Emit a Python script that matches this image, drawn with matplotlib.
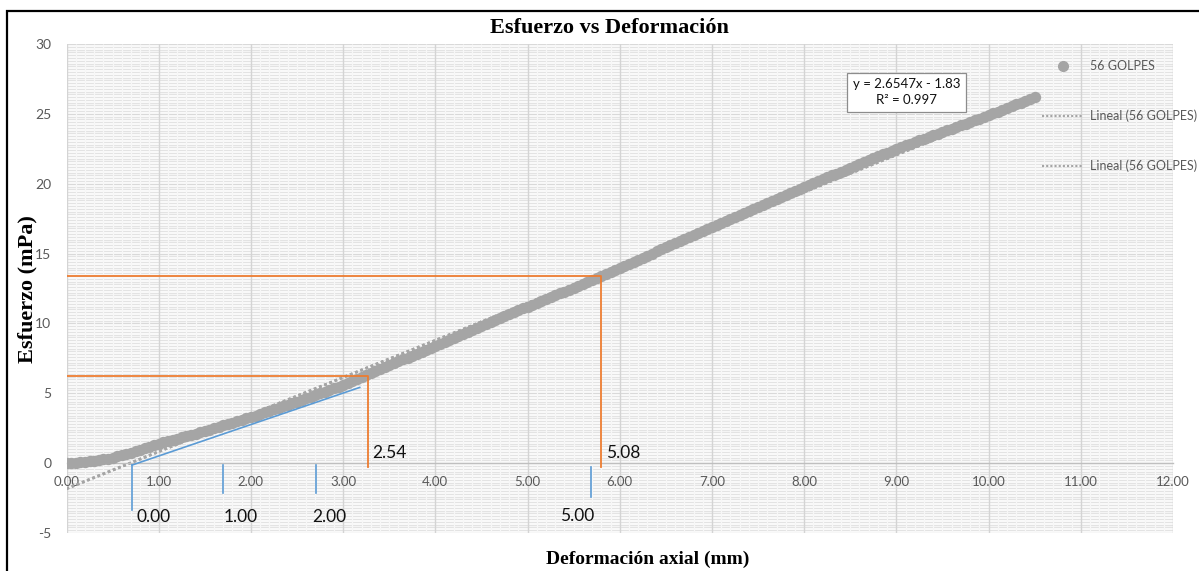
import matplotlib
matplotlib.use("Agg")
import matplotlib.pyplot as plt
from matplotlib.lines import Line2D
from matplotlib.patches import Rectangle
from matplotlib.ticker import MultipleLocator, FormatStrFormatter

plt.rcParams["axes.unicode_minus"] = False

# ---------------- data ----------------
deformacion = [
    0.00, 0.05, 0.10, 0.15, 0.20, 0.25, 0.30, 0.35, 0.40, 0.45,
    0.50, 0.55, 0.60, 0.65, 0.70, 0.75, 0.80, 0.85, 0.90, 0.95,
    1.00, 1.05, 1.10, 1.15, 1.20, 1.25, 1.30, 1.35, 1.40, 1.45,
    1.50, 1.55, 1.60, 1.65, 1.70, 1.75, 1.80, 1.85, 1.90, 1.95,
    2.00, 2.05, 2.10, 2.15, 2.20, 2.25, 2.30, 2.35, 2.40, 2.45,
    2.50, 2.55, 2.60, 2.65, 2.70, 2.75, 2.80, 2.85, 2.90, 2.95,
    3.00, 3.05, 3.10, 3.15, 3.20, 3.25, 3.30, 3.35, 3.40, 3.45,
    3.50, 3.55, 3.60, 3.65, 3.70, 3.75, 3.80, 3.85, 3.90, 3.95,
    4.00, 4.05, 4.10, 4.15, 4.20, 4.25, 4.30, 4.35, 4.40, 4.45,
    4.50, 4.55, 4.60, 4.65, 4.70, 4.75, 4.80, 4.85, 4.90, 4.95,
    5.00, 5.05, 5.10, 5.15, 5.20, 5.25, 5.30, 5.35, 5.40, 5.45,
    5.50, 5.55, 5.60, 5.65, 5.70, 5.75, 5.80, 5.85, 5.90, 5.95,
    6.00, 6.05, 6.10, 6.15, 6.20, 6.25, 6.30, 6.35, 6.40, 6.45,
    6.50, 6.55, 6.60, 6.65, 6.70, 6.75, 6.80, 6.85, 6.90, 6.95,
    7.00, 7.05, 7.10, 7.15, 7.20, 7.25, 7.30, 7.35, 7.40, 7.45,
    7.50, 7.55, 7.60, 7.65, 7.70, 7.75, 7.80, 7.85, 7.90, 7.95,
    8.00, 8.05, 8.10, 8.15, 8.20, 8.25, 8.30, 8.35, 8.40, 8.45,
    8.50, 8.55, 8.60, 8.65, 8.70, 8.75, 8.80, 8.85, 8.90, 8.95,
    9.00, 9.05, 9.10, 9.15, 9.20, 9.25, 9.30, 9.35, 9.40, 9.45,
    9.50, 9.55, 9.60, 9.65, 9.70, 9.75, 9.80, 9.85, 9.90, 9.95,
    10.00, 10.05, 10.10, 10.15, 10.20, 10.25, 10.30, 10.35, 10.40, 10.45,
    10.50]
esfuerzo = [
    0.00, 0.01, 0.03, 0.05, 0.09, 0.13, 0.17, 0.22, 0.27, 0.33,
    0.40, 0.48, 0.56, 0.66, 0.76, 0.86, 0.96, 1.07, 1.18, 1.29,
    1.40, 1.49, 1.58, 1.67, 1.76, 1.85, 1.94, 2.03, 2.12, 2.21,
    2.30, 2.40, 2.50, 2.60, 2.70, 2.80, 2.90, 3.00, 3.10, 3.20,
    3.30, 3.41, 3.52, 3.63, 3.74, 3.85, 3.96, 4.07, 4.18, 4.29,
    4.40, 4.52, 4.64, 4.76, 4.88, 5.00, 5.12, 5.24, 5.36, 5.48,
    5.60, 5.74, 5.88, 6.02, 6.16, 6.30, 6.44, 6.58, 6.72, 6.86,
    7.00, 7.14, 7.28, 7.42, 7.56, 7.70, 7.84, 7.98, 8.12, 8.26,
    8.40, 8.54, 8.69, 8.83, 8.98, 9.12, 9.27, 9.41, 9.56, 9.70,
    9.85, 9.99, 10.12, 10.26, 10.39, 10.53, 10.66, 10.80, 10.93, 11.07,
    11.20, 11.34, 11.47, 11.61, 11.74, 11.88, 12.01, 12.15, 12.28, 12.42,
    12.55, 12.69, 12.83, 12.97, 13.11, 13.25, 13.39, 13.53, 13.67, 13.81,
    13.95, 14.10, 14.25, 14.40, 14.55, 14.70, 14.85, 15.00, 15.15, 15.30,
    15.45, 15.60, 15.74, 15.89, 16.03, 16.18, 16.32, 16.47, 16.61, 16.76,
    16.90, 17.05, 17.19, 17.34, 17.48, 17.63, 17.77, 17.92, 18.06, 18.21,
    18.35, 18.49, 18.63, 18.77, 18.91, 19.05, 19.19, 19.33, 19.47, 19.61,
    19.75, 19.89, 20.03, 20.17, 20.31, 20.45, 20.59, 20.73, 20.87, 21.01,
    21.15, 21.29, 21.42, 21.56, 21.69, 21.83, 21.96, 22.10, 22.23, 22.37,
    22.50, 22.62, 22.74, 22.86, 22.98, 23.10, 23.22, 23.34, 23.46, 23.58,
    23.70, 23.82, 23.94, 24.06, 24.18, 24.30, 24.42, 24.54, 24.66, 24.78,
    24.90, 25.03, 25.16, 25.29, 25.42, 25.55, 25.68, 25.81, 25.94, 26.07,
    26.20]

serie_label = "56 GOLPES"
trend_label = "Lineal (56 GOLPES)"
trend_slope = 2.6547
trend_intercept = -1.83
trend_r2 = 0.997

# orange guide lines: (x, y) corner points
guia_naranja_x = [3.27, 5.80]
guia_naranja_y = [6.21, 13.37]
guia_naranja_labels = ["2.54", "5.08"]

# blue tangent line (start, end)
tangente_x = [0.71, 3.18]
tangente_y = [-0.14, 5.42]
# blue short vertical markers
marcas_azul_x = [0.71, 1.70, 2.71, 5.69]
marcas_azul_bottom = [-3.37, -2.17, -2.17, -2.41]
marcas_azul_top = [-0.14, -0.14, -0.14, -0.26]
marcas_azul_labels = ["0.00", "1.00", "2.00", "5.00"]
marcas_azul_label_x = [0.755, 1.70, 2.66, 5.35]
marcas_azul_label_y = [-3.85, -3.85, -3.85, -3.78]

x_ticks = [0, 1, 2, 3, 4, 5, 6, 7, 8, 9, 10, 11, 12]
y_ticks = [-5, 0, 5, 10, 15, 20, 25, 30]

# ---------------- style ----------------
GRAY = "#A5A5A5"
ORANGE = "#ED7D31"
BLUE = "#5B9BD5"
TICKC = "#595959"
SANS = ["Lato", "DejaVu Sans"]
SERIF = ["Liberation Serif", "DejaVu Serif"]

fig = plt.figure(figsize=(11.99, 5.71), dpi=100)
ax = fig.add_axes([66.5 / 1199, 38 / 571, (1173 - 66.5) / 1199, (533 - 44) / 571])

ax.set_xlim(0, 12)
ax.set_ylim(-5, 30)

# grid
ax.set_axisbelow(True)
ax.xaxis.set_major_locator(MultipleLocator(1))
ax.xaxis.set_minor_locator(MultipleLocator(0.1))
ax.yaxis.set_major_locator(MultipleLocator(5))
ax.yaxis.set_minor_locator(MultipleLocator(0.2))
ax.grid(which="minor", axis="y", color="#e3e3e3", lw=1.0)
ax.grid(which="major", axis="y", color="#d9d9d9", lw=1.0)
ax.grid(which="major", axis="x", color="#d4d4d4", lw=1.0)
ax.yaxis.set_zorder(0.5)
ax.xaxis.set_zorder(0.7)
# faint vertical minor breaks, drawn between the horizontal grid and the x axis
ax.vlines(ax.xaxis.get_minorticklocs(), 0, 1, transform=ax.get_xaxis_transform(),
          colors="#f7f7f7", lw=0.9, zorder=0.6)

for s in ["left", "right", "top"]:
    ax.spines[s].set_visible(False)
ax.spines["bottom"].set_position(("data", 0))
ax.spines["bottom"].set_color("#bfbfbf")
ax.spines["bottom"].set_linewidth(1.0)

ax.set_xticks(x_ticks)
ax.set_yticks(y_ticks)
ax.xaxis.set_major_formatter(FormatStrFormatter("%.2f"))
ax.tick_params(axis="both", which="both", length=0)
ax.tick_params(axis="x", pad=9, labelsize=9.5, labelcolor=TICKC)
ax.tick_params(axis="y", pad=11, labelsize=10, labelcolor=TICKC)
for lab in ax.get_xticklabels() + ax.get_yticklabels():
    lab.set_family(SANS)

# trendlines (two identical)
x0, x1 = min(deformacion), max(deformacion)
tx = [x0, x1]
ty = [trend_slope * x0 + trend_intercept, trend_slope * x1 + trend_intercept]
ax.plot(tx, ty, color=GRAY, lw=2.0, ls=(0, (1, 1)), zorder=2)
ax.plot(tx, ty, color=GRAY, lw=2.0, ls=(0, (1, 1)), zorder=2)

# data
ax.plot(deformacion, esfuerzo, ls="none", marker="o", ms=8.2, mfc=GRAY,
        mec=GRAY, mew=0, zorder=3)

# orange guides
for gx, gy, gl in zip(guia_naranja_x, guia_naranja_y, guia_naranja_labels):
    ax.plot([0, gx, gx], [gy, gy, -0.3], color=ORANGE, lw=1.3, zorder=4)
    ax.text(gx + 0.05, 0.12, gl, fontsize=12.5, color="#111111", family=SANS,
            ha="left", va="bottom", zorder=5)

# blue tangent and markers
ax.plot(tangente_x, tangente_y, color=BLUE, lw=1.2, zorder=4)
for bx, bb, bt in zip(marcas_azul_x, marcas_azul_bottom, marcas_azul_top):
    ax.plot([bx, bx], [bt, bb], color=BLUE, lw=1.2, zorder=4)
for lx, ly, lt in zip(marcas_azul_label_x, marcas_azul_label_y, marcas_azul_labels):
    ax.text(lx, ly, lt, fontsize=12.5, color="#111111", family=SANS,
            ha="left", va="center", zorder=5)

# equation box
ax.text(9.11, 26.55, f"y = {trend_slope}x - {abs(trend_intercept)}\nR² = {trend_r2}",
        fontsize=9.5, color="#111111", family=SANS, ha="center", va="center",
        multialignment="center", linespacing=1.35, zorder=6,
        bbox=dict(boxstyle="square,pad=0.45", fc="white", ec="#8c8c8c", lw=0.9))

# legend
handles = [
    Line2D([], [], ls="none", marker="o", ms=7, mfc=GRAY, mec=GRAY),
    Line2D([], [], color=GRAY, lw=1.5, ls=(0, (1, 1))),
    Line2D([], [], color=GRAY, lw=1.5, ls=(0, (1, 1))),
]
leg = ax.legend(handles, [serie_label, trend_label, trend_label],
                loc="upper left", bbox_to_anchor=(1042 / 1199, 1 - 60 / 571),
                bbox_transform=fig.transFigure, frameon=False, borderpad=0,
                borderaxespad=0, handlelength=3.3, handletextpad=0.5,
                labelspacing=3.0, prop={"family": SANS, "size": 9})
for t in leg.get_texts():
    t.set_color(TICKC)
leg.set_zorder(7)

# titles
fig.text(609 / 1199, 1 - 28 / 571, "Esfuerzo vs Deformación", ha="center",
         va="center", fontsize=16, fontweight="bold", family=SERIF, color="black")
fig.text(27 / 1199, 1 - 289 / 571, "Esfuerzo (mPa)", ha="center", va="center",
         rotation=90, fontsize=16, fontweight="bold", family=SERIF, color="black")
fig.text(648 / 1199, 1 - 559 / 571, "Deformación axial (mm)", ha="center",
         va="center", fontsize=14, fontweight="bold", family=SERIF, color="black")

# outer frame
fig.patches.append(Rectangle((7 / 1199, -0.2), 1.2, 1.2 - 10.5 / 571,
                             transform=fig.transFigure, fill=False,
                             ec="black", lw=1.6, zorder=10))

fig.savefig("out.png", dpi=100)
